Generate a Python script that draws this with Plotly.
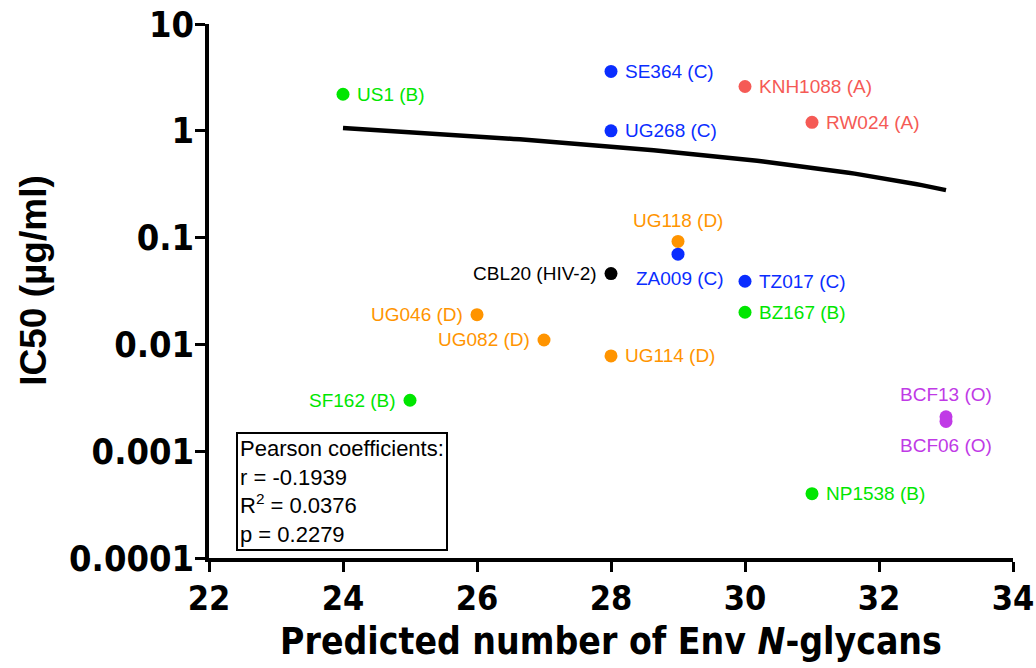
import numpy as np
import plotly.graph_objects as go

# Virus isolates: predicted Env N-glycan count vs IC50
isolates = ["US1 (B)", "SE364 (C)", "KNH1088 (A)", "RW024 (A)", "UG268 (C)",
            "UG118 (D)", "ZA009 (C)", "CBL20 (HIV-2)", "TZ017 (C)", "BZ167 (B)",
            "UG046 (D)", "UG082 (D)", "UG114 (D)", "SF162 (B)", "BCF13 (O)",
            "BCF06 (O)", "NP1538 (B)"]
glycans = [24, 28, 30, 31, 28, 29, 29, 28, 30, 30, 26, 27, 28, 25, 33, 33, 31]
ic50 = [2.2, 3.6, 2.6, 1.2, 1.0, 0.092, 0.07, 0.046, 0.039, 0.02,
        0.019, 0.011, 0.0078, 0.003, 0.0021, 0.0019, 0.0004]
clades = ["B", "C", "A", "A", "C", "D", "C", "HIV-2", "C", "B",
          "D", "D", "D", "B", "O", "O", "B"]

x_ticks = [22, 24, 26, 28, 30, 32, 34]
y_ticks = [10, 1, 0.1, 0.01, 0.001, 0.0001]
y_tick_text = ["10", "1", "0.1", "0.01", "0.001", "0.0001"]

pearson_lines = ["Pearson coefficients:", "r = -0.1939",
                 "R<sup>2</sup> = 0.0376", "p = 0.2279"]

clade_colors = {"A": "#f55a55", "B": "#00e600", "C": "#0a2dff",
                "D": "#ff9400", "O": "#c03ae6", "HIV-2": "#000000"}

# label placement: (xanchor, yanchor, xshift, yshift)
label_pos = {
    "CBL20 (HIV-2)": ("right", "middle", -12, 0),
    "UG046 (D)": ("right", "middle", -12, 0),
    "UG082 (D)": ("right", "middle", -12, 0),
    "SF162 (B)": ("right", "middle", -12, 0),
    "UG118 (D)": ("center", "bottom", 0, 8),
    "ZA009 (C)": ("center", "top", 2, -12),
    "BCF13 (O)": ("center", "bottom", 0, 10),
    "BCF06 (O)": ("center", "top", 0, -12),
}

label_family = "Liberation Sans, Arial, Helvetica"
condensed = "Liberation Sans Narrow, DejaVu Sans Condensed, Arial Narrow, Arial"

fig = go.Figure()

# Linear regression of IC50 on glycan count, shown on log axis
slope, intercept = np.polyfit(glycans, ic50, 1)
fit_x = np.linspace(min(glycans), max(glycans), 100)
fig.add_trace(go.Scatter(x=fit_x, y=intercept + slope * fit_x, mode="lines",
                         line=dict(color="black", width=4.5), hoverinfo="skip"))

colors = [clade_colors[c] for c in clades]
fig.add_trace(go.Scatter(x=glycans, y=ic50, mode="markers",
                         marker=dict(color=colors, size=13, line=dict(width=0)),
                         text=isolates))

annotations = []
for name, gx, val, col in zip(isolates, glycans, ic50, colors):
    xa, ya, xs, ys = label_pos.get(name, ("left", "middle", 12, 0))
    annotations.append(dict(x=gx, y=np.log10(val), text=name, showarrow=False,
                            xanchor=xa, yanchor=ya, xshift=xs, yshift=ys,
                            font=dict(family=label_family, size=19, color=col)))

annotations.append(dict(x=0.033, y=0.014, xref="paper", yref="paper",
                        xanchor="left", yanchor="bottom", align="left",
                        text="<br>".join(pearson_lines), showarrow=False,
                        bordercolor="black", borderwidth=2, borderpad=2,
                        bgcolor="white",
                        font=dict(family=label_family, size=22, color="black")))

# y-axis title
annotations.append(dict(x=-0.2184, y=0.52, xref="paper", yref="paper",
                        xanchor="center", yanchor="middle", textangle=-90,
                        text="IC50 (µg/ml)", showarrow=False,
                        font=dict(family=label_family, size=37, color="black",
                                  weight="bold")))

y_tick_font = dict(family=condensed, size=36, color="black", weight="bold")
x_tick_font = dict(family=condensed, size=34, color="black", weight="bold")

fig.update_layout(
    width=1036, height=668,
    margin=dict(l=209, r=23, t=24, b=110),
    plot_bgcolor="white", paper_bgcolor="white",
    showlegend=False,
    annotations=annotations,
    xaxis=dict(range=[22, 34], tickvals=x_ticks, ticks="outside", ticklen=10,
               tickwidth=3, tickcolor="black", showline=True, linewidth=3.5,
               linecolor="black", showgrid=False, zeroline=False,
               tickfont=x_tick_font, automargin=False, ticklabeloverflow="allow",
               ticklabelstandoff=-3,
               title=dict(text="Predicted number of Env <i>N</i>-glycans",
                          font=dict(family=condensed, size=37, color="black",
                                    weight="bold"), standoff=13)),
    yaxis=dict(type="log", range=[-4, 1], tickvals=y_ticks, ticktext=y_tick_text,
               ticks="outside", ticklen=10, tickwidth=3, tickcolor="black",
               showline=True, linewidth=3.5, linecolor="black", showgrid=False,
               zeroline=False, tickfont=y_tick_font, automargin=False,
               ticklabeloverflow="allow", ticklabelstandoff=-6),
)

fig.write_html("out.html")
